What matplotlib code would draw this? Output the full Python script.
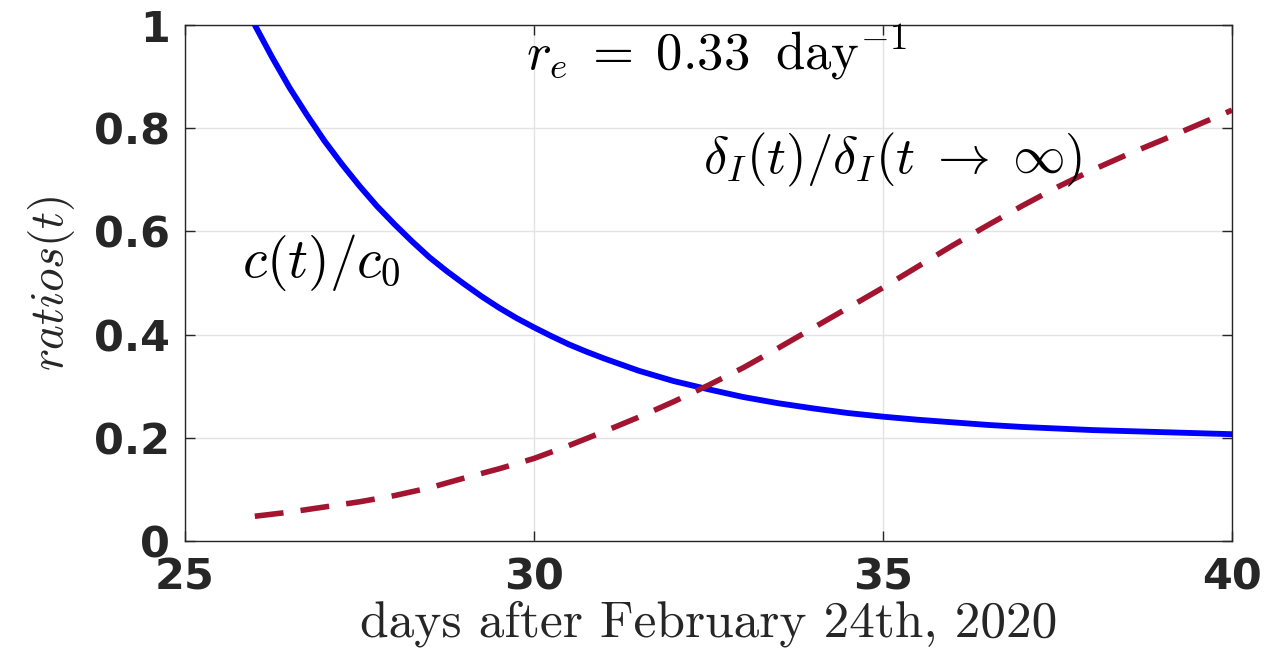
"""
Ratios c(t)/c0 and delta_I(t)/delta_I(inf) against days
"""

import numpy as np
import matplotlib
matplotlib.use('Agg')
import matplotlib.pyplot as plt

plt.rcParams['mathtext.fontset'] = 'cm'

# values
c_days = [26, 26.25, 26.5, 26.75, 27, 27.25, 27.5, 27.75, 28, 28.25, 28.5,
          28.75, 29, 29.25, 29.5, 29.75, 30, 30.25, 30.5, 30.75, 31, 31.5,
          32, 32.5, 33, 33.5, 34, 34.5, 35, 35.5, 36, 36.5, 37, 37.5, 38,
          38.5, 39, 39.5, 40]
c_ratio = [1.000, 0.937, 0.878, 0.825, 0.775, 0.730, 0.688, 0.649, 0.614,
           0.581, 0.550, 0.523, 0.498, 0.474, 0.452, 0.432, 0.414, 0.397,
           0.381, 0.367, 0.354, 0.330, 0.310, 0.294, 0.279, 0.267, 0.257,
           0.248, 0.241, 0.235, 0.230, 0.225, 0.221, 0.218, 0.215, 0.213,
           0.211, 0.209, 0.207]
d_days = [26, 26.5, 27, 27.5, 28, 28.5, 29, 29.5, 30, 30.5, 31, 31.5, 32, 32.5,
          33, 33.5, 34, 34.5, 35, 35.5, 36, 36.5, 37, 37.5, 38, 38.5, 39, 39.5, 40]
delta_ratio = [0.048, 0.056, 0.066, 0.076, 0.088, 0.103, 0.122, 0.140, 0.160,
               0.185, 0.212, 0.240, 0.270, 0.302, 0.336, 0.374, 0.413, 0.452,
               0.491, 0.532, 0.573, 0.612, 0.650, 0.686, 0.719, 0.749, 0.777,
               0.806, 0.835]
xticks = [25, 30, 35, 40]
yticks = [0, 0.2, 0.4, 0.6, 0.8, 1]
yticklabels = ['0', '0.2', '0.4', '0.6', '0.8', '1']

axcol = '#262626'

fig = plt.figure(figsize=(12.68, 6.48), dpi=100)
ax = fig.add_axes([0.1459, 0.1651, 0.8257, 0.7963])

ax.plot(c_days, c_ratio, color='#0000ff', lw=4.2, zorder=3,
        solid_joinstyle='round')
ax.plot(d_days, delta_ratio, color='#A2142F', lw=4.0, dashes=(5.2, 3.1),
        zorder=3)

ax.set_xlim(25, 40)
ax.set_ylim(0, 1)
ax.set_xticks(xticks)
ax.set_xticklabels([str(v) for v in xticks])
ax.set_yticks(yticks)
ax.set_yticklabels(yticklabels)
ax.grid(True, color='#e3e3e3', lw=1.0, zorder=0)
ax.set_axisbelow(True)
ax.tick_params(direction='in', top=True, right=True, length=7, width=1,
               color=axcol, labelsize=31, labelcolor=axcol)
ax.tick_params(axis='x', pad=11)
ax.tick_params(axis='y', pad=11)
for lab in ax.get_xticklabels() + ax.get_yticklabels():
    lab.set_fontweight('bold')
for sp in ax.spines.values():
    sp.set_color(axcol)
    sp.set_linewidth(1.0)

ax.set_xlabel('days after February 24th, 2020', fontfamily='cmr10',
              fontsize=37, color=axcol)
ax.xaxis.set_label_coords(0.5, -0.116)
ax.set_ylabel(r'$ratios(t)$', fontsize=34, color=axcol, labelpad=12)

ax.text(32.61, 0.948, r'$r_e \;=\; 0.33\;\; \mathrm{day}^{-1}$', fontsize=38,
        ha='center', va='center')
ax.text(26.96, 0.539, r'$c(t)/c_0$', fontsize=40, ha='center', va='center')
ax.text(35.14, 0.738, r'$\delta_I(t)/\delta_I(t\;\rightarrow\;\infty)$',
        fontsize=38, ha='center', va='center')

fig.savefig('out.png', dpi=100)
